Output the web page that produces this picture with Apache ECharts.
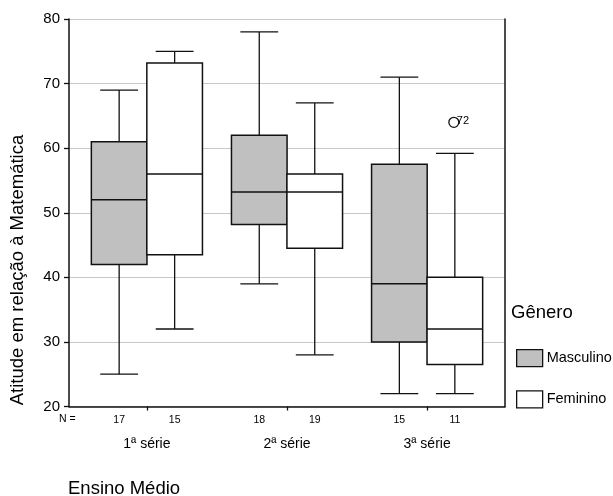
<!DOCTYPE html>
<html>
<head>
<meta charset="utf-8">
<script src="https://cdn.jsdelivr.net/npm/echarts@6/dist/echarts.min.js"></script>
<style>html,body{margin:0;padding:0;background:#fff}#c{width:613px;height:496px}</style>
</head>
<body>
<div id="c"></div>
<script>
// ---- data ----
var groups = ['1ª série', '2ª série', '3ª série'];
// [min, q1, median, q3, max]
var mascStats = [[25, 42, 52, 61, 69], [39, 48.2, 53.2, 62, 78], [22, 30, 39, 57.5, 71]];
var femStats = [[32, 43.5, 56, 73.2, 75], [28, 44.5, 53.2, 56, 67], [22, 26.5, 32, 40, 59.2]];
var mascN = [17, 18, 15];
var femN = [15, 19, 11];
// outliers: group index, series, value, case label
var outlierGroup = [2];
var outlierSeries = ['Feminino'];
var outlierValue = [64];
var outlierLabel = ['72'];
var yTicks = [20, 30, 40, 50, 60, 70, 80];

var FONT = "'Liberation Sans', Arial, sans-serif";
var chart = echarts.init(document.getElementById('c'), null, {renderer: 'canvas'});

function boxData(stats, ns) {
  return stats.map(function (s, i) { return [i + 1].concat(s).concat([ns[i]]); });
}

function makeRender(sign) {
  return function (params, api) {
    var x = api.value(0);
    var sp = api.size([1, 0])[0];
    var cx = api.coord([x, 20])[0] + sign * 0.198 * sp;
    var bw = 0.397 * sp, cw = 0.27 * sp;
    var y = function (v) { return api.coord([x, v])[1]; };
    var ymin = y(api.value(1)), yq1 = y(api.value(2)), ymed = y(api.value(3)),
        yq3 = y(api.value(4)), ymax = y(api.value(5));
    var y20 = y(20);
    var ls = {stroke: '#111', lineWidth: 1.3};
    var bs = {stroke: '#111', lineWidth: 1.5};
    return {
      type: 'group',
      children: [
        {type: 'line', shape: {x1: cx, y1: yq3, x2: cx, y2: ymax}, style: ls},
        {type: 'line', shape: {x1: cx - cw / 2, y1: ymax, x2: cx + cw / 2, y2: ymax}, style: ls},
        {type: 'line', shape: {x1: cx, y1: yq1, x2: cx, y2: ymin}, style: ls},
        {type: 'line', shape: {x1: cx - cw / 2, y1: ymin, x2: cx + cw / 2, y2: ymin}, style: ls},
        {type: 'rect', shape: {x: cx - bw / 2, y: yq3, width: bw, height: yq1 - yq3},
          style: {fill: api.visual('color'), stroke: '#111', lineWidth: 1.5}},
        {type: 'line', shape: {x1: cx - bw / 2, y1: ymed, x2: cx + bw / 2, y2: ymed}, style: bs},
        {type: 'text', x: cx, y: y20 + 14,
          style: {text: String(api.value(6)), fontSize: 10.5, fontFamily: FONT, fill: '#000',
            align: 'center', verticalAlign: 'middle'}}
      ]
    };
  };
}

var outlierData = outlierGroup.map(function (g, i) {
  return [g + 1, outlierSeries[i] === 'Masculino' ? -1 : 1, outlierValue[i], outlierLabel[i]];
});

chart.setOption({
  animation: false,
  backgroundColor: '#fff',
  grid: {left: 69, right: 108, top: 19, bottom: 89.5},
  xAxis: {
    type: 'value', min: 0.444, max: 3.556,
    axisLine: {show: true, lineStyle: {color: '#111', width: 1.5}},
    axisTick: {show: true, customValues: [1, 2, 3], length: 4, lineStyle: {color: '#111', width: 1.3}},
    axisLabel: {customValues: [1, 2, 3], formatter: function (v) { return groups[Math.round(v) - 1]; },
      margin: 30.5, fontSize: 14, fontFamily: FONT, color: '#000'},
    splitLine: {show: false}
  },
  yAxis: [{
    type: 'value', min: 20, max: 80, interval: 10,
    axisLine: {show: true, lineStyle: {color: '#111', width: 1.5}},
    axisTick: {show: true, length: 5, lineStyle: {color: '#111', width: 1.3}},
    axisLabel: {fontSize: 15, fontFamily: FONT, color: '#000', margin: 9},
    splitLine: {show: true, lineStyle: {color: '#c8c8c8', width: 1.2}}
  }, {
    type: 'value', min: 20, max: 80, position: 'right',
    axisLine: {show: true, lineStyle: {color: '#111', width: 1.5}},
    axisTick: {show: false}, axisLabel: {show: false}, splitLine: {show: false}
  }],
  legend: {
    data: ['Masculino', 'Feminino'],
    orient: 'vertical', left: 516, top: 349, padding: 0,
    itemWidth: 26, itemHeight: 17, itemGap: 23,
    icon: 'rect',
    itemStyle: {borderColor: '#111', borderWidth: 1.3},
    textStyle: {fontSize: 14.5, fontFamily: FONT, color: '#000', padding: [0, 0, 0, -1]},
    selectedMode: false
  },
  graphic: [
    {type: 'text', left: 511, top: 303, style: {text: 'Gênero', fontSize: 18.5, fontFamily: FONT, fill: '#000'}},
    {type: 'text', left: 68, top: 479, style: {text: 'Ensino Médio', fontSize: 18.5, fontFamily: FONT, fill: '#000'}},
    {type: 'text', left: 59, top: 414, style: {text: 'N =', fontSize: 10.5, fontFamily: FONT, fill: '#000'}},
    {type: 'text', x: 18, y: 270, rotation: Math.PI / 2,
      style: {text: 'Atitude em relação à Matemática', fontSize: 18.5, fontFamily: FONT, fill: '#000',
        align: 'center', verticalAlign: 'middle'}}
  ],
  series: [
    {type: 'custom', name: 'Masculino', itemStyle: {color: '#c0c0c0', borderColor: '#111', borderWidth: 1.3},
      renderItem: makeRender(-1), data: boxData(mascStats, mascN), encode: {x: 0, y: [1, 2, 3, 4, 5]}, clip: false, z: 3},
    {type: 'custom', name: 'Feminino', itemStyle: {color: '#ffffff', borderColor: '#111', borderWidth: 1.3},
      renderItem: makeRender(1), data: boxData(femStats, femN), encode: {x: 0, y: [1, 2, 3, 4, 5]}, clip: false, z: 3},
    {type: 'custom', name: 'outliers',
      renderItem: function (params, api) {
        var x = api.value(0);
        var sp = api.size([1, 0])[0];
        var p = api.coord([x, api.value(2)]);
        var cx = p[0] + api.value(1) * 0.198 * sp;
        return {type: 'group', children: [
          {type: 'circle', shape: {cx: cx - 1, cy: p[1], r: 5}, style: {fill: 'none', stroke: '#111', lineWidth: 1.3}},
          {type: 'text', x: cx + 2, y: p[1] - 1, style: {text: String(api.value(3)), fontSize: 11, fontFamily: FONT,
            fill: '#000', verticalAlign: 'middle'}}
        ]};
      },
      data: outlierData, encode: {x: 0, y: 2}, z: 4}
  ]
});
</script>
</body>
</html>
